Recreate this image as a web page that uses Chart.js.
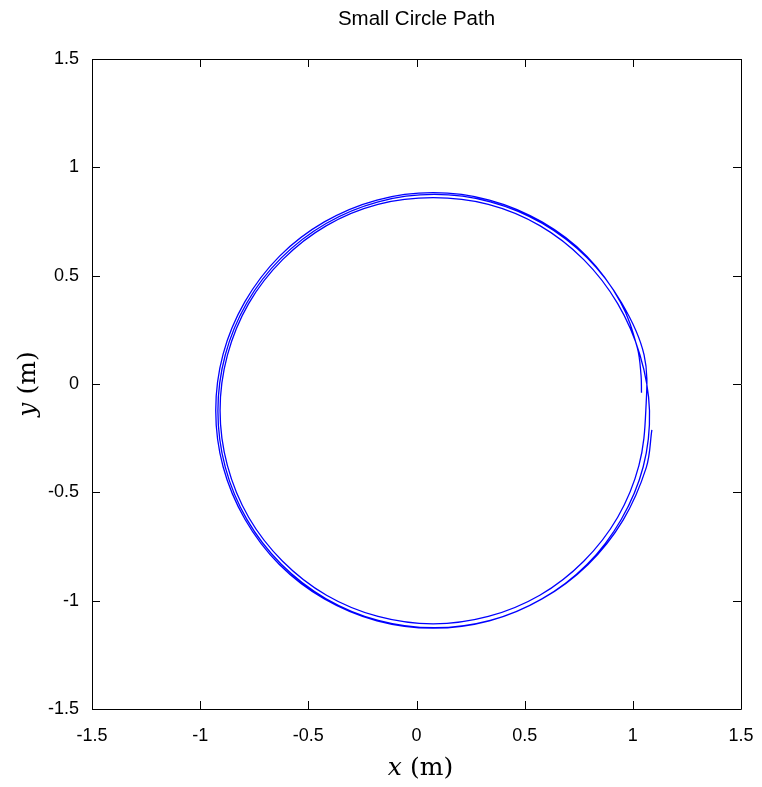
<!DOCTYPE html>
<html>
<head>
<meta charset="utf-8">
<script src="https://cdn.jsdelivr.net/npm/chart.js@4/dist/chart.umd.min.js"></script>
<style>
html,body{margin:0;padding:0;background:#fff;}
#wrap{width:762px;height:787px;position:relative;}
</style>
</head>
<body>
<div id="wrap"><canvas id="c" width="762" height="787"></canvas></div>
<script>
// Path samples (metres)
const pathX = [
  1.040, 1.038, 1.020, 0.943, 0.788, 0.580, 0.337, 0.077, -0.183, -0.426, -0.634, -0.793, -0.894, -0.928,
  -0.894, -0.793, -0.634, -0.426, -0.183, 0.077, 0.337, 0.580, 0.788, 0.947, 1.048, 1.077,
  1.033, 0.930, 0.773, 0.570, 0.332, 0.077, -0.178, -0.416, -0.619, -0.776, -0.874, -0.908,
  -0.874, -0.776, -0.619, -0.416, -0.178, 0.077, 0.332, 0.570, 0.773, 0.930, 1.028, 1.060,
  1.052, 0.948, 0.789, 0.582, 0.341, 0.082, -0.177, -0.418, -0.625, -0.784, -0.884, -0.918,
  -0.884, -0.784, -0.625, -0.418, -0.177, 0.082, 0.341, 0.582, 0.792, 0.955, 1.062, 1.088
];
const pathY = [
  -0.040, 0.040, 0.170, 0.378, 0.589, 0.748, 0.849, 0.883, 0.849, 0.748, 0.589, 0.380, 0.138, -0.122,
  -0.382, -0.624, -0.833, -0.992, -1.093, -1.127, -1.093, -0.992, -0.833, -0.624, -0.382, -0.122,
  0.134, 0.371, 0.574, 0.731, 0.829, 0.860, 0.829, 0.731, 0.574, 0.371, 0.133, -0.122,
  -0.377, -0.615, -0.818, -0.975, -1.073, -1.107, -1.073, -0.975, -0.818, -0.615, -0.377, -0.122,
  0.134, 0.375, 0.582, 0.741, 0.841, 0.875, 0.841, 0.741, 0.582, 0.375, 0.134, -0.125,
  -0.384, -0.625, -0.832, -0.991, -1.091, -1.125, -1.091, -0.991, -0.834, -0.628, -0.386, -0.212
];
const tickValues = [-1.5, -1, -0.5, 0, 0.5, 1, 1.5];
const tickLabels = ['-1.5', '-1', '-0.5', '0', '0.5', '1', '1.5'];
const chartTitle = 'Small Circle Path';

const points = pathX.map((x, i) => ({x: x, y: pathY[i]}));

const fmt = v => {
  const i = tickValues.findIndex(t => Math.abs(t - v) < 1e-9);
  return i >= 0 ? tickLabels[i] : '';
};

const SERIF = '"DejaVu Serif", "Liberation Serif", serif';

const frame = {
  id: 'frame',
  afterDraw(chart) {
    const ctx = chart.ctx, a = chart.chartArea;
    const xs = chart.scales.x, ys = chart.scales.y;
    const L = 8;
    ctx.save();
    ctx.strokeStyle = '#000';
    ctx.lineWidth = 1;
    ctx.beginPath();
    ctx.rect(Math.round(a.left) + 0.5, Math.round(a.top) + 0.5, Math.round(a.right - a.left), Math.round(a.bottom - a.top));
    tickValues.forEach(v => {
      const px = Math.round(xs.getPixelForValue(v)) + 0.5;
      ctx.moveTo(px, a.bottom); ctx.lineTo(px, a.bottom - L);
      ctx.moveTo(px, a.top); ctx.lineTo(px, a.top + L);
      const py = Math.round(ys.getPixelForValue(v)) + 0.5;
      ctx.moveTo(a.left, py); ctx.lineTo(a.left + L, py);
      ctx.moveTo(a.right, py); ctx.lineTo(a.right - L, py);
    });
    ctx.stroke();
    const drawLabel = (v) => {
      ctx.font = 'italic 25px ' + SERIF;
      const w1 = ctx.measureText(v).width;
      ctx.font = '25px ' + SERIF;
      const rest = ' (m)';
      const w2 = ctx.measureText(rest).width;
      const tot = w1 + w2;
      ctx.textBaseline = 'middle';
      ctx.textAlign = 'left';
      ctx.font = 'italic 25px ' + SERIF;
      ctx.fillText(v, -tot / 2, 0);
      ctx.font = '25px ' + SERIF;
      ctx.fillText(rest, -tot / 2 + w1, 0);
    };
    ctx.fillStyle = '#000';
    ctx.save();
    ctx.translate((a.left + a.right) / 2 + 4, 768);
    drawLabel('x');
    ctx.restore();
    ctx.save();
    ctx.translate(28, (a.top + a.bottom) / 2);
    ctx.rotate(-Math.PI / 2);
    drawLabel('y');
    ctx.restore();
    ctx.restore();
  }
};

new Chart(document.getElementById('c'), {
  type: 'scatter',
  data: {
    datasets: [{
      data: points,
      showLine: true,
      borderColor: '#0000ff',
      borderWidth: 1.3,
      pointRadius: 0,
      tension: 0.36,
      fill: false
    }]
  },
  options: {
    responsive: false,
    animation: false,
    layout: {padding: {left: 0, right: 0, top: 0, bottom: 0}},
    plugins: {
      legend: {display: false},
      tooltip: {enabled: false},
      title: {
        display: true,
        fullSize: false,
        text: chartTitle,
        color: '#000',
        font: {family: '"Liberation Sans", Arial, sans-serif', size: 20.5, weight: 'normal'},
        padding: {top: 7, bottom: 27.4}
      }
    },
    scales: {
      x: {
        type: 'linear',
        min: -1.5, max: 1.5,
        afterBuildTicks: s => { s.ticks = tickValues.map(v => ({value: v})); },
        afterFit: s => { s.height = 78; s.paddingRight = 21; s.paddingLeft = 0; },
        grid: {display: false, drawTicks: false},
        border: {display: false},
        ticks: {
          callback: fmt, color: '#000', padding: 16, maxRotation: 0,
          font: {family: '"Liberation Sans", Arial, sans-serif', size: 18}
        }
      },
      y: {
        type: 'linear',
        min: -1.5, max: 1.5,
        afterBuildTicks: s => { s.ticks = tickValues.map(v => ({value: v})); },
        afterFit: s => { s.width = 92; s.paddingTop = 0; s.paddingBottom = 0; },
        grid: {display: false, drawTicks: false},
        border: {display: false},
        ticks: {
          callback: fmt, color: '#000', padding: 13,
          font: {family: '"Liberation Sans", Arial, sans-serif', size: 18}
        }
      }
    }
  },
  plugins: [frame]
});
</script>
</body>
</html>
